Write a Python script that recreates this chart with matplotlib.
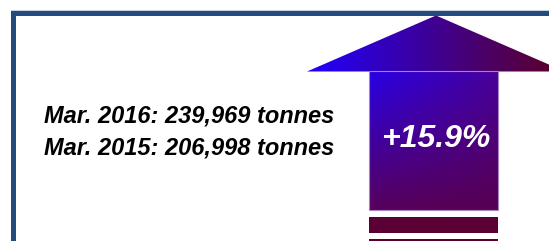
import numpy as np
import matplotlib
matplotlib.use("Agg")
import matplotlib.pyplot as plt
from matplotlib.patches import Polygon, Rectangle

# ---- data ----
labels = ["Mar. 2016", "Mar. 2015"]
tonnes = [239969, 206998]
change_pct = 15.9

W, H = 549, 241
fig = plt.figure(figsize=(W / 100, H / 100), dpi=100)
ax = fig.add_axes([0, 0, 1, 1])
ax.set_xlim(0, W)
ax.set_ylim(H, 0)
ax.axis("off")

# frame
border = "#234b7d"
ax.add_patch(Rectangle((11, 11), W, 5, color=border, lw=0, zorder=3))
ax.add_patch(Rectangle((11, 11), 5, H, color=border, lw=0, zorder=3))
ax.plot([11, W], [10.2, 10.2], color="#c8d2de", lw=0.8, zorder=2)

# gradient field
xx, yy = np.meshgrid(np.arange(W) + 0.5, np.arange(H) + 0.5)
def hexrgb(h):
    return np.array([int(h[i:i + 2], 16) for i in (1, 3, 5)]) / 255.0

# head: horizontal gradient
c_l, c_r = hexrgb("#2000ff"), hexrgb("#5a0030")
t = np.clip((xx - 307) / (549 - 307), 0, 1)[..., None]
head_img = c_l * (1 - t) + c_r * t
# shaft: bilinear
tl, tr, bl, br = hexrgb("#2800e8"), hexrgb("#48009a"), hexrgb("#58005a"), hexrgb("#560050")
u = np.clip((xx - 369) / (498 - 369), 0, 1)[..., None]
v = np.clip((yy - 71) / (210 - 71), 0, 1)[..., None]
shaft_img = (tl * (1 - u) + tr * u) * (1 - v) + (bl * (1 - u) + br * u) * v

tip_x, tip_y = 436, 15.5
head = Polygon([(307, 71.5), (tip_x, tip_y), (565, 71.5)], closed=True,
               facecolor="none", edgecolor="none")
ax.add_patch(head)
im1 = ax.imshow(head_img, extent=(0, W, H, 0), zorder=2, interpolation="bilinear")
im1.set_clip_path(head)

shaft = Rectangle((369, 71), 129, 139, facecolor="none", edgecolor="#a684c4", lw=0.8, zorder=4)
ax.add_patch(shaft)
shaft_clip = Rectangle((369, 70.5), 129, 139.5, facecolor="none", edgecolor="none")
ax.add_patch(shaft_clip)
im2 = ax.imshow(shaft_img, extent=(0, W, H, 0), zorder=2, interpolation="bilinear")
im2.set_clip_path(shaft_clip)
ax.set_xlim(0, W)
ax.set_ylim(H, 0)

# bars under the arrow
ax.add_patch(Rectangle((369, 217), 129, 15.7, color="#5a0034", lw=0, zorder=3))
ax.add_patch(Rectangle((369, 239), 129, 5, color="#5a0030", lw=0, zorder=3))

fam = ["Liberation Sans", "DejaVu Sans"]
for i, (lab, val) in enumerate(zip(labels, tonnes)):
    ax.text(44, 123 + 32 * i, f"{lab}: {val:,} tonnes", family=fam, style="italic",
            weight="bold", fontsize=17, color="black", ha="left", va="baseline", zorder=5)

ax.text(435.5, 147, f"+{change_pct}%", family=fam, style="italic", weight="bold",
        fontsize=23, color="white", ha="center", va="baseline", zorder=5)

fig.savefig("out.png", dpi=100)
